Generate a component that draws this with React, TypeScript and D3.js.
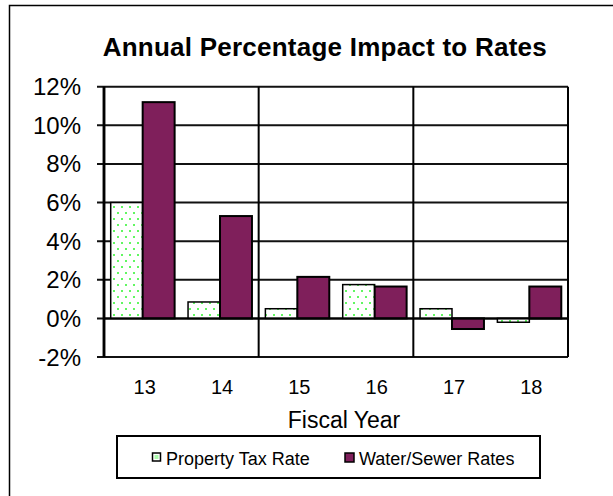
import React from "react";
import * as d3 from "d3";

const years = ["13", "14", "15", "16", "17", "18"];
const propertyTax = [6.0, 0.85, 0.5, 1.75, 0.5, -0.2];
const waterSewer = [11.2, 5.3, 2.15, 1.65, -0.55, 1.65];
const seriesNames = ["Property Tax Rate", "Water/Sewer Rates"];
const yTicks = [-2, 0, 2, 4, 6, 8, 10, 12];

const W = 613;
const H = 496;
const FONT = "'Liberation Sans', Arial, Helvetica, sans-serif";
const PURPLE = "#7f1f5b";

export default function App() {
  const left = 104, right = 568, top = 86.7, bottom = 357;
  const y = d3.scaleLinear().domain([-2, 12]).range([bottom, top]);
  const x = d3.scaleBand<string>().domain(years).range([left, right]).padding(0);
  const xs = d3
    .scaleBand<string>()
    .domain(seriesNames)
    .range([0, x.bandwidth()])
    .paddingInner(0)
    .paddingOuter(0.21);
  const vGrid = [years[0], years[2], years[4]].map((c) => x(c)!).concat([right]);
  const data = [propertyTax, waterSewer];

  return (
    <svg
      width={W}
      height={H}
      style={{ position: "absolute", left: 0, top: 0, background: "#fff" }}
      fontFamily={FONT}
    >
      <defs>
        <pattern id="dots" width="8" height="12" patternUnits="userSpaceOnUse">
          <rect width="8" height="12" fill="#fff" />
          <circle cx="2" cy="3" r="1" fill="#2cf52c" />
          <circle cx="6" cy="9" r="1" fill="#2cf52c" />
        </pattern>
      </defs>
      {/* outer chart border */}
      <rect x={9.5} y={5.5} width={W + 20} height={H + 20} fill="none" stroke="#000" strokeWidth={1.5} />

      {/* title */}
      <text x={102.7} y={56} fontSize={26} fontWeight="bold" textLength={444} lengthAdjust="spacing" fill="#000">
        Annual Percentage Impact to Rates
      </text>

      {/* horizontal gridlines */}
      {yTicks.map((t) => (
        <line key={"h" + t} x1={left - 7} x2={right} y1={y(t)} y2={y(t)} stroke="#111" strokeWidth={2} />
      ))}
      {/* vertical gridlines */}
      {vGrid.map((gx, i) => (
        <line key={"v" + i} x1={gx} x2={gx} y1={top} y2={bottom} stroke="#000" strokeWidth={i === 0 ? 2.5 : 2} />
      ))}

      {/* bars */}
      {data.map((vals, si) =>
        vals.map((v, i) => {
          const bx = x(years[i])! + xs(seriesNames[si])!;
          const y0 = y(0);
          const y1 = y(v);
          return (
            <rect
              key={si + "-" + i}
              x={bx}
              y={Math.min(y0, y1)}
              width={xs.bandwidth()}
              height={Math.abs(y1 - y0)}
              fill={si === 0 ? "url(#dots)" : PURPLE}
              stroke="#000"
              strokeWidth={si === 0 ? 1.5 : 2}
            />
          );
        })
      )}
      {/* zero axis redrawn over bars */}
      <line x1={left} x2={right} y1={y(0)} y2={y(0)} stroke="#000" strokeWidth={2} />
      <line x1={left} x2={left} y1={top} y2={bottom} stroke="#000" strokeWidth={2.5} />

      {/* y tick labels */}
      {yTicks.map((t) => (
        <text key={"yt" + t} x={81} y={y(t) + 8.5} fontSize={24} textAnchor="end" fill="#000">
          {t + "%"}
        </text>
      ))}
      {/* x tick labels */}
      {years.map((c) => (
        <text key={"xt" + c} x={x(c)! + x.bandwidth() / 2 + 2} y={394} fontSize={20} textAnchor="middle" fill="#000">
          {c}
        </text>
      ))}
      <text x={344} y={428} fontSize={23} textAnchor="middle" fill="#000">
        Fiscal Year
      </text>

      {/* legend */}
      <rect x={117} y={436} width={423} height={42} fill="#fff" stroke="#000" strokeWidth={2} />
      <rect x={152.5} y={453} width={8} height={8} fill="#fff" stroke="#000" strokeWidth={1.5} />
      <rect x={154.5} y={455} width={4} height={4} fill="#2cf52c" opacity={0.4} />
      <text x={166} y={465} fontSize={18} fill="#000">{seriesNames[0]}</text>
      <rect x={345} y={453} width={9} height={9} fill={PURPLE} stroke="#000" strokeWidth={1.5} />
      <text x={359} y={465} fontSize={18} fill="#000">{seriesNames[1]}</text>
    </svg>
  );
}
